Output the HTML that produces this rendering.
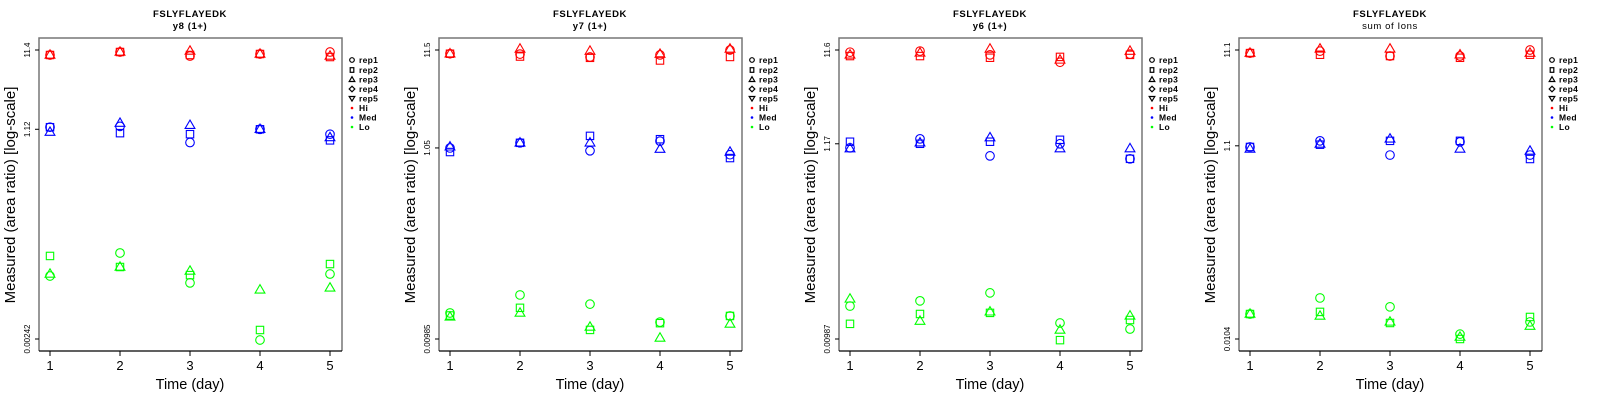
<!DOCTYPE html>
<html><head><meta charset="utf-8"><style>
html,body{margin:0;padding:0;background:#fff;}
svg{display:block;font-family:"Liberation Sans",sans-serif;}
</style></head><body>
<svg id="chart" width="1600" height="400" viewBox="0 0 1600 400"></svg>
<script>
const days = [1,2,3,4,5];
const reps = ["rep1","rep2","rep3"];
const panelTitles = ["y8 (1+)","y7 (1+)","y6 (1+)","sum of Ions"];
const tickTop = [11.4, 11.5, 11.6, 11.1];
const tickMid = [1.12, 1.05, 1.17, 1.1];
const tickBot = [0.00242, 0.00985, 0.00987, 0.0104];
const tickTopLabels = ["11.4","11.5","11.6","11.1"];
const tickMidLabels = ["1.12","1.05","1.17","1.1"];
const tickBotLabels = ["0.00242","0.00985","0.00987","0.0104"];
// values[day][rep]
const p1Hi = [[9.85,9.85,9.85],[10.75,10.75,10.75],[9.56,9.85,11.07],[10.14,10.14,10.14],[10.75,9.28,9.56]];
const p1Med = [[1.19,1.19,1.03],[1.22,1.00,1.34],[0.76,0.97,1.26],[1.12,1.12,1.12],[0.97,0.81,0.88]];
const p1Lo = [[0.0153,0.0275,0.0162],[0.030,0.0199,0.0199],[0.0125,0.0157,0.0177],[0.00235,0.00315,0.0102],[0.0162,0.0217,0.0108]];
const p2Hi = [[10.5,10.5,10.5],[10.4,9.8,11.8],[9.7,9.5,11.2],[10.2,8.9,10.4],[11.5,9.7,11.8]];
const p2Med = [[1.05,0.95,1.08],[1.19,1.19,1.19],[0.98,1.41,1.19],[1.24,1.30,1.02],[0.89,0.82,0.95]];
const p2Lo = [[0.0186,0.0175,0.0169],[0.0289,0.0211,0.0186],[0.0231,0.0123,0.0132],[0.0149,0.0145,0.0101],[0.0173,0.0173,0.0142]];
const p3Hi = [[11.0,10.0,10.3],[11.3,10.0,10.8],[10.3,9.6,11.9],[8.6,9.8,9.1],[10.5,10.3,11.3]];
const p3Med = [[1.06,1.23,1.04],[1.32,1.17,1.20],[0.87,1.23,1.36],[1.17,1.29,1.04],[0.81,0.81,1.04]];
const p3Lo = [[0.0221,0.0143,0.0263],[0.0251,0.0182,0.0153],[0.0305,0.0187,0.0192],[0.0146,0.0096,0.0123],[0.0126,0.0157,0.0174]];
const p4Hi = [[10.3,10.3,10.3],[10.8,9.9,11.4],[9.6,9.6,11.4],[9.6,9.2,9.9],[11.1,9.9,10.3]];
const p4Med = [[1.07,1.07,1.02],[1.24,1.13,1.15],[0.88,1.24,1.30],[1.21,1.24,1.02],[0.88,0.80,0.97]];
const p4Lo = [[0.019,0.019,0.019],[0.028,0.020,0.0181],[0.0226,0.0153,0.0157],[0.0117,0.0104,0.0109],[0.0157,0.0177,0.0142]];
const panelData = [[p1Hi,p1Med,p1Lo],[p2Hi,p2Med,p2Lo],[p3Hi,p3Med,p3Lo],[p4Hi,p4Med,p4Lo]];
const levelNames = ["Hi","Med","Lo"];
const levelColors = ["#ff0000","#0000ff","#00ff00"];

const NS = "http://www.w3.org/2000/svg";
const svg = document.getElementById("chart");
function mk(tag, attrs, parent, text){
  const e = document.createElementNS(NS, tag);
  for (const k in attrs) e.setAttribute(k, attrs[k]);
  if (text !== undefined) e.textContent = text;
  parent.appendChild(e);
  return e;
}
function marker(g, shape, x, y, color){
  let e;
  if (shape === 0) e = mk("circle",{cx:x,cy:y,r:4.3,fill:"none",stroke:color,"stroke-width":1.1},g);
  else if (shape === 1) e = mk("rect",{x:x-3.7,y:y-3.7,width:7.4,height:7.4,fill:"none",stroke:color,"stroke-width":1.1},g);
  else e = mk("polygon",{points:`${x},${y-5.2} ${x+4.9},${y+3.2} ${x-4.9},${y+3.2}`,fill:"none",stroke:color,"stroke-width":1.1},g);
  return e;
}
const L = 39, R = 342, T = 38, B = 351, yTop = 50, yBot = 339;
for (let p = 0; p < 4; p++){
  const ox = p*400;
  const g = mk("g",{transform:`translate(${ox},0)`},svg);
  
  
  const lt = Math.log10(tickTop[p]), lb = Math.log10(tickBot[p]);
  const yScale = v => yTop + (lt - Math.log10(v)) / (lt - lb) * (yBot - yTop);
  const xScale = d => 50 + (d - 1) * 70;
  const t1 = mk("text",{x:190,y:17,"text-anchor":"middle","font-size":"9.5","font-weight":"bold","letter-spacing":"0.6"},g,"FSLYFLAYEDK");
  
  
  const t2 = mk("text",{x:190,y:29,"text-anchor":"middle","font-size":"9.5","font-weight":p===3?"normal":"bold","letter-spacing":"0.6"},g,panelTitles[p]);
  
  
  mk("path",{d:`M${L},${B} L${L},${T} L${R},${T} L${R},${B}`,fill:"none",stroke:"#777","stroke-width":1.5},g);
  mk("line",{x1:L,y1:B,x2:R,y2:B,stroke:"#000","stroke-width":1.2},g);
  const tv = [tickTop[p], tickMid[p], tickBot[p]];
  const tl = [tickTopLabels[p], tickMidLabels[p], tickBotLabels[p]];
  for (let i = 0; i < 3; i++){
    const y = yScale(tv[i]);
    mk("line",{x1:L-4,y1:y,x2:L,y2:y,stroke:"#000","stroke-width":1},g);
    const tx = mk("text",{x:0,y:0,transform:`translate(30,${y}) rotate(-90)`,"text-anchor":"middle","font-size":"8"},g,tl[i]);
    
    
  }
  for (const d of days){
    const x = xScale(d);
    mk("line",{x1:x,y1:B,x2:x,y2:B+5,stroke:"#000","stroke-width":1},g);
    const tx = mk("text",{x:x,y:370,"text-anchor":"middle","font-size":"13"},g,String(d));
    
    
  }
  const xt = mk("text",{x:190,y:389,"text-anchor":"middle","font-size":"14.5"},g,"Time (day)");
  
  
  const yt = mk("text",{x:0,y:0,transform:`translate(15,195) rotate(-90)`,"text-anchor":"middle","font-size":"15"},g,"Measured (area ratio) [log-scale]");
  
  
  for (let lv = 0; lv < 3; lv++){
    const vals = panelData[p][lv];
    for (let di = 0; di < days.length; di++){
      for (let r = 0; r < reps.length; r++){
        const m = marker(g, r, xScale(days[di]), yScale(vals[di][r]), levelColors[lv]);
        
        
      }
    }
  }
  const lg = mk("g",{},g);
  
  
  const items = ["rep1","rep2","rep3","rep4","rep5","Hi","Med","Lo"];
  const ys = [60,70,79.5,89,98.5,108,117.5,127];
  for (let i = 0; i < items.length; i++){
    const y = ys[i], x = 352;
    if (i === 0) mk("circle",{cx:x,cy:y,r:2.3,fill:"none",stroke:"#000","stroke-width":1.2},lg);
    else if (i === 1) mk("rect",{x:x-1.8,y:y-2.3,width:3.6,height:4.6,fill:"none",stroke:"#000","stroke-width":1.2},lg);
    else if (i === 2) mk("polygon",{points:`${x},${y-2.8} ${x+2.8},${y+2} ${x-2.8},${y+2}`,fill:"none",stroke:"#000","stroke-width":1.2},lg);
    else if (i === 3) mk("polygon",{points:`${x},${y-2.8} ${x+2.8},${y} ${x},${y+2.8} ${x-2.8},${y}`,fill:"none",stroke:"#000","stroke-width":1.2},lg);
    else if (i === 4) mk("polygon",{points:`${x},${y+2.6} ${x+2.8},${y-2} ${x-2.8},${y-2}`,fill:"none",stroke:"#000","stroke-width":1.2},lg);
    else mk("circle",{cx:x,cy:y,r:1.3,fill:levelColors[i-5]},lg);
    const t = mk("text",{x:359,y:y+3,"font-size":"8.5","font-weight":"bold","letter-spacing":"0.3"},lg,items[i]);
    
    
  }
}
</script>
</body></html>
